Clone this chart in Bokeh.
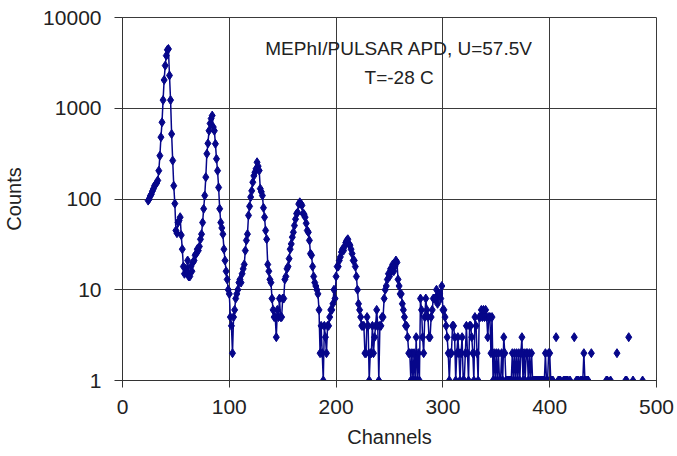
import math
from bokeh.plotting import figure
from bokeh.models import FixedTicker, NumeralTickFormatter, Label, ColumnDataSource
from bokeh.embed import file_html
from bokeh.resources import INLINE

# ---- data ----
first_channel = 24
counts = [
    # 24-43
    96, 100, 108, 113, 122, 130, 140, 145, 150, 160, 205, 300, 480, 700, 1230, 2050, 2950, 3800, 4400, 4500,
    # 44-63
    2300, 1230, 520, 265, 140, 89, 45, 42, 55, 58, 63, 40, 28, 18, 15, 17, 16, 21, 14, 14,
    # 64-83
    18, 16, 20, 21, 24, 25, 28, 27, 30, 36, 41, 55, 78, 109, 174, 315, 410, 565, 680, 770,
    # 84-103
    830, 620, 565, 405, 277, 205, 134, 78, 55, 48, 41, 28, 21, 16, 13, 10, 9, 5, 4, 2,
    # 104-123
    5, 6, 8, 9, 10, 12, 13, 12, 15, 17, 19, 27, 35, 41, 66, 83, 105, 123, 153, 180,
    # 124-143
    197, 215, 254, 230, 206, 130, 120, 109, 80, 63, 45, 36, 19, 16, 13, 12, 8, 6, 5, 5,
    # 144-163
    3, 6, 5, 8, 5, 5, 8, 8, 13, 14, 17, 18, 22, 28, 32, 38, 43, 51, 60, 69,
    # 164-183
    71, 88, 92, 89, 85, 69, 68, 63, 54, 45, 43, 35, 25, 24, 18, 14, 12, 11, 10, 9,
    # 184-203
    6, 2, 4, 2, 1, 4, 3, 2, 4, 4, 5, 6, 6, 7, 10, 8, 14, 18, 18, 21,
    # 204-223
    23, 26, 28, 27, 30, 33, 35, 36, 32, 31, 28, 25, 21, 21, 18, 14, 10, 7, 6, 5,
    # 224-243
    4, 4, 4, 2, 2, 5, 4, 1, 2, 2, 4, 2, 3, 4, 6, 4, 1, 4, 4, 5,
    # 244-263
    5, 8, 10, 11, 13, 15, 14, 17, 16, 19, 16, 18, 21, 20, 13, 11, 9, 9, 7, 6,
    # 264-283
    5, 4, 4, 3, 2, 2, 1, 2, 1, 2, 1, 3, 1, 2, 1, 8, 6, 3, 2, 5,
    # 284-303
    8, 6, 5, 3, 3, 5, 6, 8, 8, 8, 10, 7, 9, 9, 8, 11, 6, 6, 5, 4,
    # 304-323
    3, 2, 1, 2, 2, 4, 4, 3, 1, 2, 3, 2, 1, 2, 3, 1, 1, 2, 4, 2,
    # 324-343
    1, 4, 4, 3, 2, 1, 5, 4, 2, 1, 5, 5, 6, 5, 6, 5, 6, 5, 3, 5,
    # 344-363
    5, 2, 5, 1, 2, 1, 2, 1, 2, 1, 1, 2, 1, 3, 2, 1, 1, 1, 1, 1,
    # 364-383
    1, 2, 1, 2, 1, 2, 1, 2, 1, 2, 3, 1, 2, 1, 2, 2, 1, 2, 1, 2,
    # 384-403
    1, 1, 1, 1, 1, 1, 1, 1, 1, 1, 1, 1, 2, 1, 1, 2, 2, 1, 1, 1,
    # 404-423
    0, 0, 3, 0, 1, 1, 1, 0, 0, 1, 1, 1, 1, 1, 0, 1, 0, 0, 0, 3,
    # 424-443
    0, 1, 1, 1, 0, 1, 1, 1, 2, 1, 1, 1, 1, 0, 0, 2, 0, 0, 0, 0,
    # 444-463
    0, 0, 0, 0, 0, 0, 0, 0, 0, 1, 1, 0, 0, 1, 0, 0, 0, 0, 0, 2,
    # 464-487
    0, 0, 0, 0, 0, 0, 0, 1, 1, 0, 3, 0, 0, 0, 1, 0, 0, 0, 0, 0, 0, 0, 0, 1,
]
x_ticks = [0, 100, 200, 300, 400, 500]
y_ticks = [1, 10, 100, 1000, 10000]
title_lines = ["MEPhI/PULSAR APD, U=57.5V", "T=-28 C"]

channels = [first_channel + i for i in range(len(counts))]
yvals = [c if c > 0 else float("nan") for c in counts]
src = ColumnDataSource(dict(x=channels, y=yvals))

FONT = "Liberation Sans"
BLUE = "#06068a"

p = figure(width=677, height=456, y_axis_type="log",
           x_range=(0, 500), y_range=(1, 10000),
           min_border_left=121, min_border_right=21,
           min_border_top=17, min_border_bottom=76,
           output_backend="svg", toolbar_location=None)

p.line("x", "y", source=src, line_color=BLUE, line_width=1.5)
p.scatter("x", "y", source=src, marker="diamond", size=9,
          fill_color=BLUE, line_color=BLUE)

p.xaxis.ticker = FixedTicker(ticks=x_ticks)
p.yaxis.ticker = FixedTicker(ticks=y_ticks)
p.yaxis.formatter = NumeralTickFormatter(format="0")

for ax in (p.xaxis, p.yaxis):
    ax.major_label_text_font = FONT
    ax.major_label_text_font_size = "21px"
    ax.major_label_text_color = "#222222"
    ax.axis_label_text_font = FONT
    ax.axis_label_text_font_size = "20px"
    ax.axis_label_text_font_style = "normal"
    ax.axis_label_text_color = "#222222"
    ax.minor_tick_line_color = None
    ax.axis_line_color = "#333333"
    ax.major_tick_line_color = "#333333"

p.xaxis.axis_label = "Channels"
p.yaxis.axis_label = "Counts"
p.xaxis.major_tick_out = 7
p.xaxis.major_tick_in = 3
p.yaxis.major_tick_out = 8
p.yaxis.major_tick_in = 0
p.xaxis.major_label_standoff = 12
p.yaxis.major_label_standoff = 13
p.xaxis.axis_label_standoff = 9
p.yaxis.axis_label_standoff = 15

p.xgrid.grid_line_color = "#3a3a3a"
p.ygrid.grid_line_color = "#3a3a3a"
p.xgrid.grid_line_width = 1
p.ygrid.grid_line_width = 1
p.outline_line_color = "#3a3a3a"
p.background_fill_color = "white"
p.border_fill_color = "white"

p.add_layout(Label(x=259, y=4550, text=title_lines[0], text_align="center",
                   text_baseline="middle", text_font=FONT,
                   text_font_size="19px", text_color="#222222"))
p.add_layout(Label(x=259, y=2180, text=title_lines[1], text_align="center",
                   text_baseline="middle", text_font=FONT,
                   text_font_size="19px", text_color="#222222"))

open("out.html", "w").write(file_html(p, INLINE))
